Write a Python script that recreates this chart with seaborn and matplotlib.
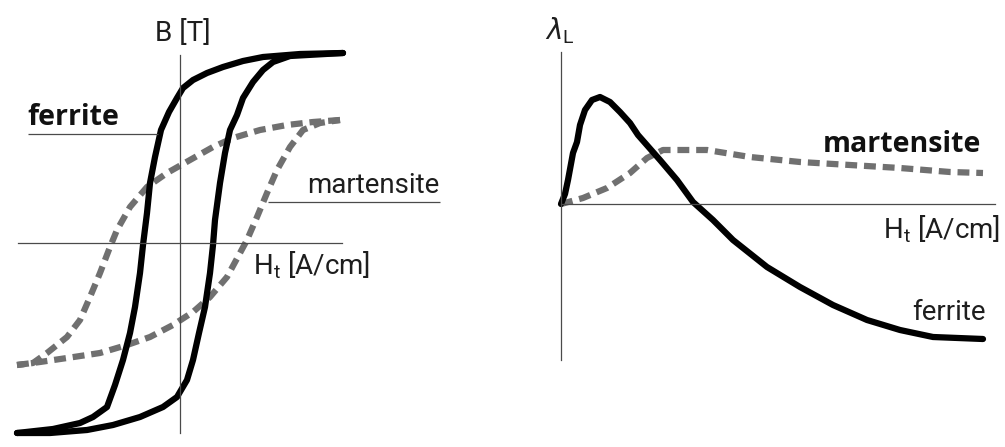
import matplotlib
matplotlib.use('Agg')
import matplotlib.pyplot as plt
import seaborn as sns

sns.set_style("white")
plt.rcParams['font.family'] = ['Roboto', 'DejaVu Sans']
plt.rcParams['mathtext.fontset'] = 'dejavusans'

# ------------------------------- data
# left panel: hysteresis loops B(H), H in A/cm, B in T (schematic)
ferrite_down_H = [8.15, 6.0, 4.15, 3.15, 2.15, 1.35, 0.65, 0.15, -0.15, -0.55, -0.95, -1.25,
                  -1.5, -1.65, -1.85, -2.0, -2.25, -2.5, -2.85, -3.25, -3.65, -4.35, -5.0,
                  -6.35, -8.15]
ferrite_down_B = [1.90, 1.89, 1.86, 1.82, 1.76, 1.70, 1.63, 1.55, 1.45, 1.31, 1.13, 0.86,
                  0.60, 0.30, -0.02, -0.30, -0.64, -0.90, -1.17, -1.42, -1.64, -1.74, -1.80,
                  -1.86, -1.90]
ferrite_up_H = [-8.15, -6.5, -4.65, -3.35, -2.0, -0.85, -0.15, 0.35, 0.65, 0.95, 1.25, 1.5,
                1.65, 1.75, 2.0, 2.25, 2.5, 2.85, 3.15, 3.65, 4.15, 4.65, 5.5, 8.15]
ferrite_up_B = [-1.90, -1.90, -1.87, -1.82, -1.74, -1.64, -1.54, -1.37, -1.17, -0.90, -0.64, -0.30,
                -0.02, 0.23, 0.60, 0.90, 1.13, 1.28, 1.45, 1.61, 1.73, 1.81, 1.87, 1.90]

mart_down_H = [8.0, 6.65, 5.35, 4.0, 2.65, 1.65, 0.5, -0.65, -1.65, -2.5, -3.15,
               -3.5, -4.0, -4.5, -5.0, -5.65, -6.65, -7.35, -8.15]
mart_down_B = [1.23, 1.21, 1.18, 1.13, 1.05, 0.96, 0.83, 0.70, 0.56, 0.36, 0.13,
               -0.04, -0.30, -0.54, -0.77, -0.94, -1.10, -1.20, -1.22]
mart_up_H = [-8.15, -7.0, -5.65, -4.0, -2.65, -1.5, -0.35, 0.65, 1.5, 2.35, 3.0,
             3.35, 3.85, 4.35, 4.85, 5.5, 6.15, 7.0, 8.0]
mart_up_B = [-1.22, -1.19, -1.15, -1.10, -1.02, -0.94, -0.82, -0.69, -0.54, -0.34, -0.10,
             0.03, 0.26, 0.50, 0.73, 0.96, 1.13, 1.20, 1.23]

# right panel: magnetostriction lambda_L(H)
lam_ferrite_H = [0.0, 0.2, 0.35, 0.6, 0.8, 0.95, 1.2, 1.55, 1.95, 2.45, 2.95, 3.45, 3.85,
                 4.95, 5.8, 6.6, 7.6, 8.6, 10.3, 11.95, 13.6, 15.3, 16.95, 18.6, 21.1]
lam_ferrite_L = [0.0, 0.10, 0.24, 0.51, 0.62, 0.79, 0.94, 1.04, 1.07, 1.02, 0.92, 0.81, 0.69,
                 0.44, 0.24, 0.02, -0.16, -0.36, -0.63, -0.83, -1.01, -1.16, -1.26, -1.33, -1.35]
lam_mart_H = [0.0, 1.1, 2.3, 3.45, 4.3, 5.1, 6.1, 7.3, 9.45, 11.95, 14.45, 16.95, 19.45, 21.1]
lam_mart_L = [0.0, 0.06, 0.16, 0.31, 0.46, 0.54, 0.54, 0.54, 0.47, 0.42, 0.39, 0.36, 0.32, 0.31]

# ------------------------------- styles
solid_kw = dict(color='black', linewidth=4.5, solid_capstyle='round', solid_joinstyle='round')
dash_kw = dict(color='#707070', linewidth=4.5, linestyle=(0, (1.9, 1.1)), dash_capstyle='butt')
axis_color = '#4a4a4a'
txt = dict(fontsize=20, color='#1e1e1e')
txt_bold = dict(fontsize=20.5, color='#111111', fontweight='bold', family=['Open Sans', 'DejaVu Sans'])
ht_label = r'H$_\mathregular{t}$ [A/cm]'

fig = plt.figure(figsize=(10.05, 4.47), dpi=100)
ax1 = fig.add_axes([0, 0, 540 / 1005, 1])
ax2 = fig.add_axes([540 / 1005, 0, 465 / 1005, 1])


def cross_axes(ax, xb, yb):
    for side in ['top', 'right']:
        ax.spines[side].set_visible(False)
    for side, b in [('left', yb), ('bottom', xb)]:
        ax.spines[side].set_position(('data', 0))
        ax.spines[side].set_bounds(*b)
        ax.spines[side].set_color(axis_color)
        ax.spines[side].set_linewidth(0.9)
    ax.set_xticks([])
    ax.set_yticks([])
    ax.set_facecolor('none')


# ------------------------------- left: B(H)
sns.lineplot(x=mart_down_H, y=mart_down_B, sort=False, estimator=None, ax=ax1, **dash_kw)
sns.lineplot(x=mart_up_H, y=mart_up_B, sort=False, estimator=None, ax=ax1, **dash_kw)
sns.lineplot(x=ferrite_down_H, y=ferrite_down_B, sort=False, estimator=None, ax=ax1, **solid_kw)
sns.lineplot(x=ferrite_up_H, y=ferrite_up_B, sort=False, estimator=None, ax=ax1, **solid_kw)
ax1.set_xlim(-9, 18)
ax1.set_ylim(-2.04, 2.43)
cross_axes(ax1, (-8.1, 8.1), (-1.90, 1.88))

ax1.text(0.15, 2.10, 'B [T]', ha='center', va='center', **txt)
ax1.text(-7.65, 1.18, 'ferrite', ha='left', va='baseline', **txt_bold)
ax1.hlines(1.09, -7.6, -1.1, color=axis_color, linewidth=0.9)
ax1.text(6.35, 0.50, 'martensite', ha='left', va='baseline', **txt)
ax1.hlines(0.41, 4.4, 13.0, color=axis_color, linewidth=0.9)
ax1.text(3.65, -0.31, ht_label, ha='left', va='baseline', **txt)

# ------------------------------- right: lambda_L(H)
sns.lineplot(x=lam_mart_H, y=lam_mart_L, sort=False, estimator=None, ax=ax2, **dash_kw)
sns.lineplot(x=lam_ferrite_H, y=lam_ferrite_L, sort=False, estimator=None, ax=ax2, **solid_kw)
ax2.set_xlim(-1.05, 22.2)
ax2.set_ylim(-2.43, 2.04)
cross_axes(ax2, (0, 21.7), (-1.56, 1.52))

ax2.text(-0.05, 1.73, r'$\lambda_\mathregular{L}$', ha='center', va='center', **txt)
ax2.text(13.1, 0.52, 'martensite', ha='left', va='baseline', **txt_bold)
ax2.text(16.1, -0.34, ht_label, ha='left', va='baseline', **txt)
ax2.text(17.55, -1.16, 'ferrite', ha='left', va='baseline', **txt)

fig.savefig('out.png', dpi=100, facecolor='white')
